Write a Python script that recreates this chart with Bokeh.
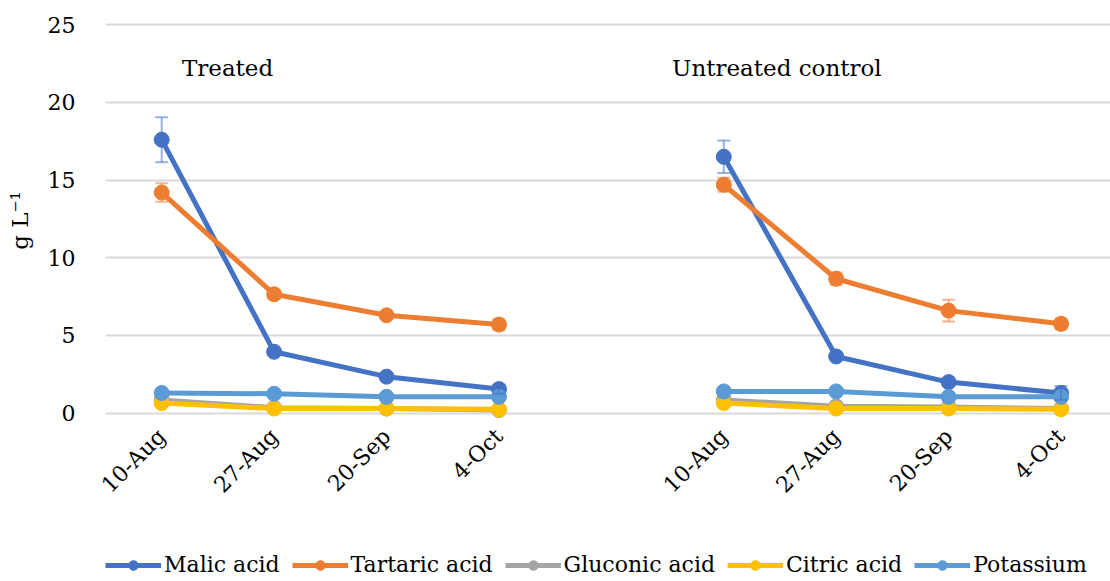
import math
from bokeh.plotting import figure
from bokeh.layouts import column
from bokeh.models import (ColumnDataSource, FixedTicker, Whisker, TeeHead, Legend,
                          LegendItem, Label, Range1d)
from bokeh.embed import file_html
from bokeh.resources import INLINE

# ---------------- data ----------------
dates = ["10-Aug", "27-Aug", "20-Sep", "4-Oct"]
groups = ["Treated", "Untreated control"]
series = ["Malic acid", "Tartaric acid", "Gluconic acid", "Citric acid", "Potassium"]

malic_treated = [17.6, 3.95, 2.35, 1.55]
malic_untreated = [16.5, 3.65, 2.0, 1.3]
malic_err_treated = [1.45, 0.15, 0.15, 0.3]
malic_err_untreated = [1.05, 0.15, 0.15, 0.45]

tartaric_treated = [14.2, 7.65, 6.3, 5.7]
tartaric_untreated = [14.7, 8.65, 6.6, 5.75]
tartaric_err_treated = [0.6, 0.3, 0.2, 0.35]
tartaric_err_untreated = [0.45, 0.4, 0.7, 0.35]

gluconic_treated = [0.85, 0.35, 0.3, 0.2]
gluconic_untreated = [0.85, 0.45, 0.4, 0.3]

citric_treated = [0.65, 0.3, 0.3, 0.25]
citric_untreated = [0.65, 0.3, 0.3, 0.25]

potassium_treated = [1.3, 1.25, 1.05, 1.05]
potassium_untreated = [1.4, 1.4, 1.05, 1.05]

colors = ["#4472C4", "#ED7D31", "#A5A5A5", "#FFC000", "#5B9BD5"]

# category slots: 4 treated dates, one empty slot, 4 untreated dates
slots = dates + [""] + dates
x_treated = [i + 1 for i in range(len(dates))]
x_untreated = [len(dates) + 2 + i for i in range(len(dates))]
ticks = x_treated + x_untreated

FONT = "DejaVu Serif"
TXT = "23px"

p = figure(frame_width=1005, frame_height=404, output_backend="svg",
           toolbar_location=None, x_range=Range1d(0.5, 9.44),
           y_range=Range1d(-0.6, 25.4),
           min_border_left=105, min_border_top=18, min_border_right=0,
           min_border_bottom=0)
p.outline_line_color = None
p.background_fill_color = "white"
p.border_fill_color = "white"

# axes
p.yaxis.ticker = FixedTicker(ticks=[0, 5, 10, 15, 20, 25])
p.yaxis.axis_line_color = None
p.yaxis.major_tick_line_color = None
p.yaxis.minor_tick_line_color = None
p.yaxis.major_label_text_font = FONT
p.yaxis.major_label_text_font_size = "22px"
p.yaxis.major_label_text_color = "black"
p.yaxis.major_label_standoff = 24
p.yaxis.axis_label = "g L\u207b\u00b9"
p.yaxis.axis_label_text_font = FONT
p.yaxis.axis_label_text_font_style = "normal"
p.yaxis.axis_label_text_font_size = TXT
p.yaxis.axis_label_text_color = "black"
p.yaxis.axis_label_standoff = 12

p.xaxis.ticker = FixedTicker(ticks=ticks)
p.xaxis.major_label_overrides = {t: slots[t - 1] for t in ticks}
p.xaxis.major_label_orientation = math.pi / 4
p.xaxis.axis_line_color = None
p.xaxis.major_tick_line_color = None
p.xaxis.minor_tick_line_color = None
p.xaxis.major_label_text_font = FONT
p.xaxis.major_label_text_font_size = "22px"
p.xaxis.major_label_text_color = "black"
p.xaxis.major_label_standoff = 4

p.xgrid.grid_line_color = None
p.ygrid.grid_line_color = "#D9D9D9"
p.ygrid.grid_line_width = 2

data = [
    (malic_treated, malic_untreated, malic_err_treated, malic_err_untreated),
    (tartaric_treated, tartaric_untreated, tartaric_err_treated, tartaric_err_untreated),
    (gluconic_treated, gluconic_untreated, None, None),
    (citric_treated, citric_untreated, None, None),
    (potassium_treated, potassium_untreated, None, None),
]

# separate strip holding the legend underneath the chart
leg = figure(width=1110, height=72, output_backend="svg", toolbar_location=None,
             x_axis_type=None, y_axis_type=None, min_border=0,
             x_range=Range1d(0, 1), y_range=Range1d(0, 1))
leg.outline_line_color = None
leg.xgrid.grid_line_color = None
leg.ygrid.grid_line_color = None

items = []
for name, color, (yt, yu, et, eu) in zip(series, colors, data):
    xs = x_treated + [len(dates) + 1] + x_untreated
    ys = yt + [float("nan")] + yu
    src = ColumnDataSource(dict(x=xs, y=ys))
    if et is not None:
        xe = x_treated + x_untreated
        ye = yt + yu
        ee = et + eu
        esrc = ColumnDataSource(dict(x=xe,
                                     upper=[a + b for a, b in zip(ye, ee)],
                                     lower=[a - b for a, b in zip(ye, ee)]))
        w = Whisker(base="x", upper="upper", lower="lower", source=esrc,
                    line_color=color, line_alpha=0.55, line_width=2,
                    upper_head=TeeHead(size=13, line_color=color, line_alpha=0.55, line_width=2),
                    lower_head=TeeHead(size=13, line_color=color, line_alpha=0.55, line_width=2),
                    level="glyph")
        p.add_layout(w)
    p.line("x", "y", source=src, line_color=color, line_width=5)
    p.scatter("x", "y", source=src, marker="circle", size=15,
              fill_color=color, line_color=color)
    # legend swatch renderers in the strip (their point lies outside the strip's view)
    lsrc = ColumnDataSource(dict(x=[-10, -10], y=[-10, -10]))
    lr = leg.line("x", "y", source=lsrc, line_color=color, line_width=5)
    sr = leg.scatter("x", "y", source=lsrc, marker="circle", size=15,
                     fill_color=color, line_color=color)
    items.append(LegendItem(label=name, renderers=[lr, sr]))

legend = Legend(items=items, orientation="horizontal", location=(0, 4),
                label_text_font=FONT, label_text_font_size="22px",
                label_text_color="black", glyph_width=56, glyph_height=24,
                label_standoff=3, spacing=12, padding=0, margin=0,
                border_line_color=None, background_fill_alpha=0)
leg.add_layout(legend, "center")

p.add_layout(Label(x=x_treated[0] + 0.18, y=22.2, text=groups[0],
                   text_font=FONT, text_font_size=TXT, text_color="black",
                   text_baseline="middle"))
p.add_layout(Label(x=x_untreated[0] - 0.46, y=22.2, text=groups[1],
                   text_font=FONT, text_font_size=TXT, text_color="black",
                   text_baseline="middle"))

layout = column(p, leg, spacing=0)
open("out.html", "w").write(file_html(layout, INLINE))
